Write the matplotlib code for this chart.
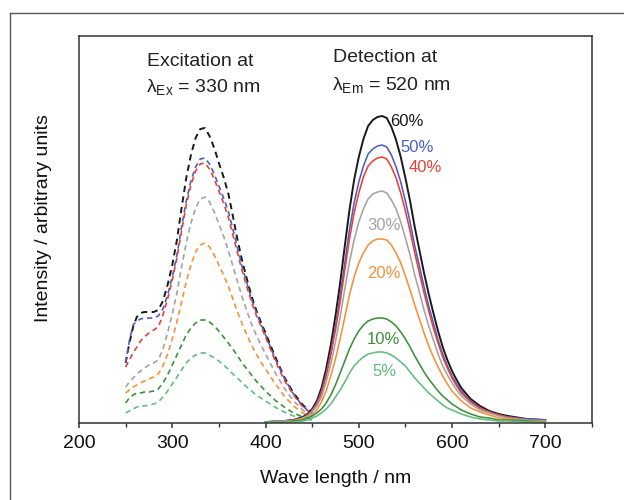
import matplotlib
matplotlib.use("Agg")
import matplotlib.pyplot as plt
from matplotlib.lines import Line2D

plt.rcParams['font.family'] = ['Liberation Sans', 'DejaVu Sans']
plt.rcParams['mathtext.fontset'] = 'custom'
plt.rcParams['mathtext.rm'] = 'Liberation Sans'
plt.rcParams['mathtext.it'] = 'Liberation Sans:italic'

# excitation spectra (dashed), detection at 520 nm
ex_wl = [250, 254, 258, 262, 266, 270, 275, 280, 285, 290, 295, 300, 305, 310, 315, 320, 325, 330, 335,
         340, 345, 350, 355, 360, 365, 370, 375, 380, 385, 390, 395, 400, 410, 420, 430, 440, 450]
ex_60 = [60, 80, 96, 106, 110, 111, 111, 111, 113, 122, 138, 158, 183, 215, 245, 268, 285, 294, 295,
         287, 275, 260, 246, 230, 207, 183, 162, 144, 127, 113, 101, 90, 67, 46, 30, 18, 10]
ex_50 = [60, 82, 98, 102, 104, 105, 105, 105, 107, 114, 128, 146, 168, 196, 222, 242, 256, 264, 265,
         259, 249, 237, 225, 212, 194, 175, 156, 140, 124, 111, 99, 88, 65, 45, 29, 17, 9]
ex_40 = [56, 63, 70, 76, 82, 86, 90, 93, 96, 108, 124, 143, 165, 192, 218, 238, 252, 259, 260,
         254, 244, 232, 220, 206, 188, 170, 152, 136, 121, 108, 97, 86, 63, 43, 28, 16, 9]
ex_30 = [36, 41, 45, 49, 52, 55, 58, 60, 63, 74, 90, 109, 130, 156, 180, 200, 215, 224, 226,
         221, 211, 199, 187, 173, 157, 141, 126, 112, 99, 88, 78, 69, 51, 35, 22, 13, 7]
ex_20 = [30, 33, 36, 38, 40, 42, 44, 46, 49, 57, 69, 84, 101, 121, 141, 158, 171, 178, 180,
         176, 168, 158, 148, 137, 124, 111, 99, 88, 78, 69, 61, 54, 40, 27, 17, 10, 6]
ex_10 = [20, 25, 28, 30, 30, 31, 31, 32, 34, 40, 48, 58, 68, 78, 88, 95, 100, 103, 103,
         101, 97, 92, 86, 80, 74, 67, 60, 54, 48, 42, 37, 32, 23, 16, 10, 6, 4]
ex_05 = [10, 12, 14, 16, 17, 17, 18, 19, 21, 26, 32, 39, 46, 53, 60, 65, 68, 70, 70,
         68, 65, 62, 58, 54, 49, 45, 40, 36, 32, 28, 25, 22, 16, 11, 7, 4, 3]

# emission spectra (solid), excitation at 330 nm
em_wl = [400, 420, 430, 440, 445, 450, 455, 460, 465, 470, 475, 480, 485, 490, 495, 500, 505, 510, 515,
         520, 525, 530, 535, 540, 545, 550, 555, 560, 565, 570, 575, 580, 585, 590, 595, 600, 605, 610,
         620, 630, 640, 650, 660, 680, 700]
em_60 = [1, 2, 3, 6, 9, 14, 22, 35, 54, 78, 107, 140, 177, 213, 243, 266, 284, 297, 303,
         306, 307, 305, 296, 283, 266, 245, 222, 196, 173, 150, 129, 110, 92, 76, 63, 52, 43, 35,
         24, 17, 12, 9, 7, 4, 3]
em_50 = [1, 2, 3, 5, 8, 13, 20, 32, 49, 71, 97, 127, 160, 193, 220, 241, 257, 269, 274,
         277, 278, 276, 268, 256, 241, 222, 201, 177, 157, 136, 117, 100, 83, 69, 57, 47, 39, 32,
         22, 15, 11, 8, 6, 4, 3]
em_40 = [1, 2, 3, 5, 8, 12, 19, 30, 47, 68, 93, 121, 153, 184, 210, 230, 246, 257, 262,
         265, 266, 264, 256, 245, 230, 212, 192, 170, 150, 130, 112, 95, 80, 66, 55, 45, 37, 30,
         21, 15, 11, 8, 6, 3, 2]
em_30 = [1, 2, 2, 5, 7, 11, 17, 26, 41, 59, 81, 106, 134, 161, 183, 201, 214, 224, 229,
         231, 232, 230, 223, 214, 201, 185, 168, 148, 131, 113, 97, 83, 69, 57, 48, 40, 33, 27,
         19, 13, 10, 7, 5, 3, 2]
em_20 = [1, 1, 2, 4, 5, 8, 13, 21, 32, 47, 64, 84, 106, 128, 146, 160, 170, 178, 182,
         184, 184, 183, 178, 170, 160, 147, 133, 118, 104, 90, 77, 66, 56, 47, 39, 32, 27, 22,
         15, 11, 8, 5, 4, 2, 2]
em_10 = [1, 1, 2, 3, 5, 7, 10, 14, 20, 28, 38, 50, 62, 74, 84, 92, 98, 102, 104,
         105, 105, 104, 101, 97, 91, 84, 76, 67, 59, 51, 44, 38, 32, 27, 23, 19, 16, 13,
         9, 6, 5, 3, 3, 2, 1]
em_05 = [1, 1, 1, 2, 3, 5, 7, 10, 14, 19, 26, 33, 41, 50, 57, 62, 66, 69, 70,
         71, 71, 70, 68, 65, 61, 57, 51, 45, 40, 35, 30, 26, 22, 18, 15, 13, 11, 9,
         6, 4, 3, 2, 2, 1, 1]

labels = ["60%", "50%", "40%", "30%", "20%", "10%", "5%"]
colors = ["#1a1a1a", "#4a5fc1", "#e8403a", "#a3a3a3", "#f5913a", "#3d8f3d", "#62bd80"]
label_x = [552, 562, 571, 527, 527, 526, 527]
label_y = [302, 276, 256, 197, 149, 84, 52]

ex_series = [ex_60, ex_50, ex_40, ex_30, ex_20, ex_10, ex_05]
em_series = [em_60, em_50, em_40, em_30, em_20, em_10, em_05]

fig = plt.figure(figsize=(6.24, 5.0), dpi=100)
ax = fig.add_axes([0.1266, 0.154, 0.822, 0.774])

for i in range(len(labels)):
    lw = 1.4 if i == 0 else 1.2
    ax.plot(ex_wl, ex_series[i], color=colors[i], lw=lw, linestyle=(0, (3.2, 2.3)))
for i in range(len(labels)):
    lw = 1.4 if i == 0 else 1.15
    ax.plot(em_wl, em_series[i], color=colors[i], lw=lw)
    ax.text(label_x[i], label_y[i], labels[i], color=colors[i], fontsize=12,
            ha="center", va="center")

ax.text(273, 362, "Excitation at", fontsize=14, ha="left", va="center", color="#222222")
ax.text(272, 336, "λ$_{\\mathrm{Ex}}$ = 330 nm", fontsize=14, ha="left", va="center", color="#222222")
ax.text(472, 365, "Detection at", fontsize=14, ha="left", va="center", color="#222222")
ax.text(471, 338, "λ$_{\\mathrm{Em}}$ = 520 nm", fontsize=14, ha="left", va="center", color="#222222")

ax.set_xlim(200, 750)
ax.set_ylim(0, 387)
ax.set_xticks([200, 300, 400, 500, 600, 700])
ax.set_xticks([250, 350, 450, 550, 650, 750], minor=True)
ax.set_yticks([])
ax.tick_params(axis="x", direction="out", length=3.5, width=1.1, labelsize=14,
               colors="#333333", labelcolor="#111111", pad=5)
ax.tick_params(axis="x", which="minor", direction="out", length=3, width=1.0, colors="#333333")
for sp in ax.spines.values():
    sp.set_linewidth(1.1)
    sp.set_color("#333333")

ax.set_xlabel("Wave length / nm", fontsize=14, labelpad=13, color="#111111")
ax.set_ylabel("Intensity / arbitrary units", fontsize=14, color="#111111")
ax.yaxis.set_label_coords(-0.052, 0.53)

# outer frame
fig.add_artist(Line2D([10 / 624, 10 / 624], [0, 1 - 13 / 500], color="#555555", lw=1.0))
fig.add_artist(Line2D([10 / 624, 1], [1 - 13 / 500, 1 - 13 / 500], color="#555555", lw=1.0))

fig.savefig("out.png", dpi=100)
